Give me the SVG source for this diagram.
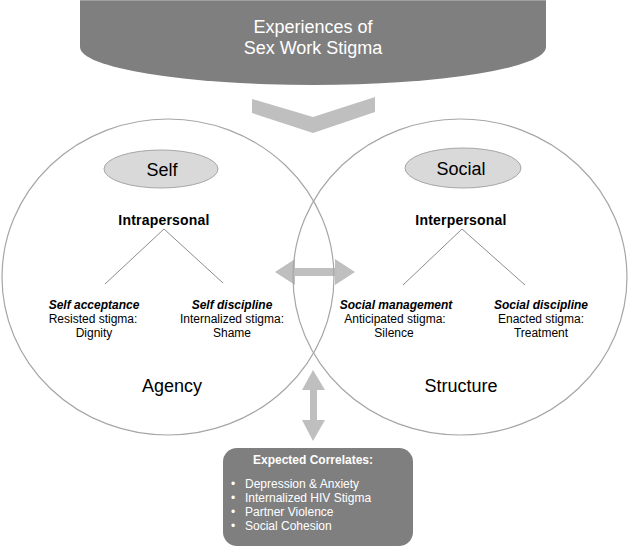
<svg xmlns="http://www.w3.org/2000/svg" width="628" height="546" viewBox="0 0 628 546">
<style>
text{font-family:"Liberation Sans",Arial,sans-serif;text-anchor:middle;fill:#000}
.big{font-size:18px}
.b14{font-size:14px;font-weight:bold;letter-spacing:0.2px}
.bi{font-size:12px;font-weight:bold;font-style:italic}
.r12{font-size:12px}
.w{fill:#fff}
.venn{fill:none;stroke:#a6a6a6;stroke-width:1.2}
.pill{fill:#d9d9d9;stroke:#a6a6a6;stroke-width:1}
.tree{fill:none;stroke:#8c8c8c;stroke-width:1}
.arr{fill:#bfbfbf}
</style>
<rect width="628" height="546" fill="#fff"/>
<g id="title">
<path d="M80,0 H546 V47 A233,38 0 0 1 80,47 Z" fill="#7f7f7f"/>
<rect x="80" y="0" width="466" height="1" fill="#a0a0a0"/>
<text class="big w" x="313" y="32.5">Experiences of</text>
<text class="big w" x="313" y="53.5">Sex Work Stigma</text>
</g>
<g id="connectors">
<polygon class="arr" points="252,99 313,117 375,97 375,112 313,133 252,113"/>
<polygon class="arr" points="275,272 295,259 295,268 335,268 335,259 355,272 335,285 335,276 295,276 295,285"/>
<polygon class="arr" points="313,370 325,390 317,390 317,420 325,420 313,441 302,420 310,420 310,390 302,390"/>
</g>
<g id="self-circle">
<ellipse class="venn" cx="168" cy="277" rx="166" ry="158"/>
<ellipse class="pill" cx="161" cy="169" rx="57" ry="19"/>
<text class="big" x="162" y="175.5">Self</text>
<text class="b14" x="164" y="225">Intrapersonal</text>
<polyline class="tree" points="105,284 164,229 223,283"/>
<text class="bi" x="94" y="309">Self acceptance</text>
<text class="r12" x="93" y="323">Resisted stigma:</text>
<text class="r12" x="94" y="337">Dignity</text>
<text class="bi" x="232" y="309">Self discipline</text>
<text class="r12" x="232" y="323">Internalized stigma:</text>
<text class="r12" x="232" y="337">Shame</text>
<text class="big" x="172" y="392">Agency</text>
</g>
<g id="social-circle">
<ellipse class="venn" cx="460" cy="277" rx="167" ry="158"/>
<ellipse class="pill" cx="463" cy="168" rx="58" ry="20"/>
<text class="big" x="461" y="175">Social</text>
<text class="b14" x="461" y="225">Interpersonal</text>
<polyline class="tree" points="403,285 462,229 525,285"/>
<text class="bi" x="396" y="309">Social management</text>
<text class="r12" x="395" y="323">Anticipated stigma:</text>
<text class="r12" x="394" y="337">Silence</text>
<text class="bi" x="541" y="309">Social discipline</text>
<text class="r12" x="541" y="323">Enacted stigma:</text>
<text class="r12" x="541" y="337">Treatment</text>
<text class="big" x="461" y="392">Structure</text>
</g>
<g id="correlates">
<rect x="223" y="448" width="190" height="98" rx="14" fill="#7f7f7f"/>
<text class="w" x="313" y="464" style="font-size:12px;font-weight:bold">Expected Correlates:</text>
<g class="w" style="font-size:12px;text-anchor:start">
<text class="w" x="231" y="488" style="text-anchor:start">•</text>
<text class="w" x="245" y="488" style="text-anchor:start">Depression &amp; Anxiety</text>
<text class="w" x="231" y="502" style="text-anchor:start">•</text>
<text class="w" x="245" y="502" style="text-anchor:start">Internalized HIV Stigma</text>
<text class="w" x="231" y="516" style="text-anchor:start">•</text>
<text class="w" x="245" y="516" style="text-anchor:start">Partner Violence</text>
<text class="w" x="231" y="530" style="text-anchor:start">•</text>
<text class="w" x="245" y="530" style="text-anchor:start">Social Cohesion</text>
</g>
</g>
</svg>
